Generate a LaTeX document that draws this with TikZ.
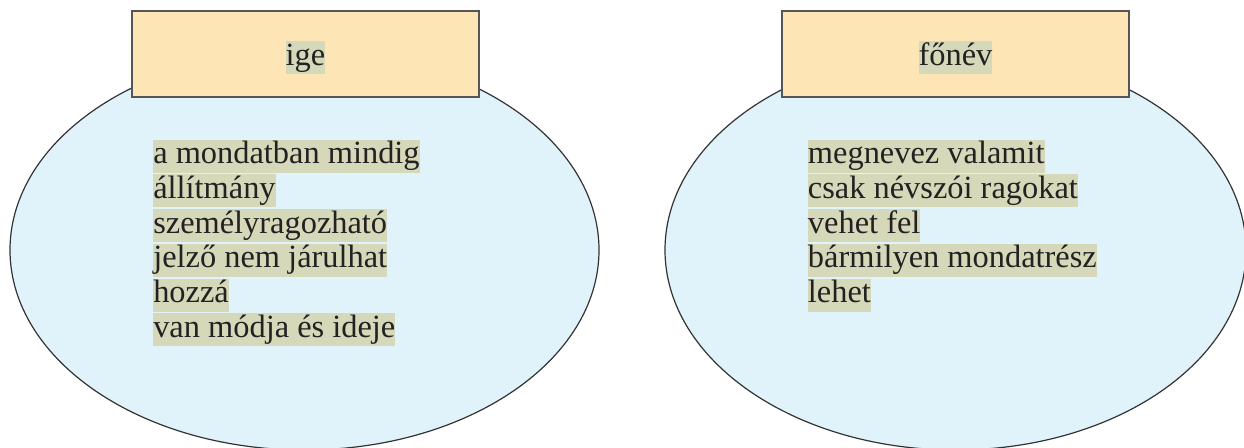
\documentclass[tikz,border=0pt]{standalone}
\usepackage{fontspec}
\setmainfont{Liberation Serif}
\usetikzlibrary{shapes.geometric}
\definecolor{rectfill}{HTML}{FDE5B6}
\definecolor{rectborder}{HTML}{555555}
\definecolor{ellfill}{HTML}{E0F2FA}
\definecolor{ellborder}{HTML}{333333}
\definecolor{hlfill}{HTML}{D5D9B9}
\definecolor{txt}{HTML}{222222}
\begin{document}
\begin{tikzpicture}[x=0.75pt,y=-0.75pt,
  ell/.style={ellipse, draw=ellborder, fill=ellfill, line width=0.9pt, inner sep=0pt},
  head/.style={rectangle, draw=rectborder, fill=rectfill, line width=1pt, minimum width=260.25pt, minimum height=64.5pt, inner sep=0pt},
  hlbase/.style={fill=hlfill, text=txt, inner sep=0pt, text height=18pt, text depth=6.75pt, font=\fontsize{24.3}{26}\selectfont},
  hl/.style={hlbase, anchor=north west},
  ttl/.style={hlbase}]
\useasboundingbox (0,0) rectangle (1244,447);
\node[ell, minimum width=441.75pt, minimum height=300pt] (e1) at (304.5,250) {};
\node[ell, minimum width=435.75pt, minimum height=300pt] (e2) at (955.5,250) {};
\node[head] (h1) at (305.5,54) {};
\node[head] (h2) at (955.5,54) {};
\node[ttl] (t1) at (305.5,57.5) {ige};
\node[ttl] (t2) at (955.5,57.5) {főnév};
\node[hl] (l1) at (153,139.3) {a mondatban mindig\ };
\node[hl] (l2) at (153,174.05) {állítmány};
\node[hl] (l3) at (153,208.8) {személyragozható};
\node[hl] (l4) at (153,243.55) {jelző nem járulhat\ };
\node[hl] (l5) at (153,278.3) {hozzá};
\node[hl] (l6) at (153,313.05) {van módja és ideje\ };
\node[hl] (r1) at (807.7,139.3) {megnevez valamit};
\node[hl] (r2) at (807.7,174.05) {csak névszói ragokat\ };
\node[hl] (r3) at (807.7,208.8) {vehet fel};
\node[hl] (r4) at (807.7,243.55) {bármilyen mondatrész\ };
\node[hl] (r5) at (807.7,278.3) {lehet};
\end{tikzpicture}
\end{document}
